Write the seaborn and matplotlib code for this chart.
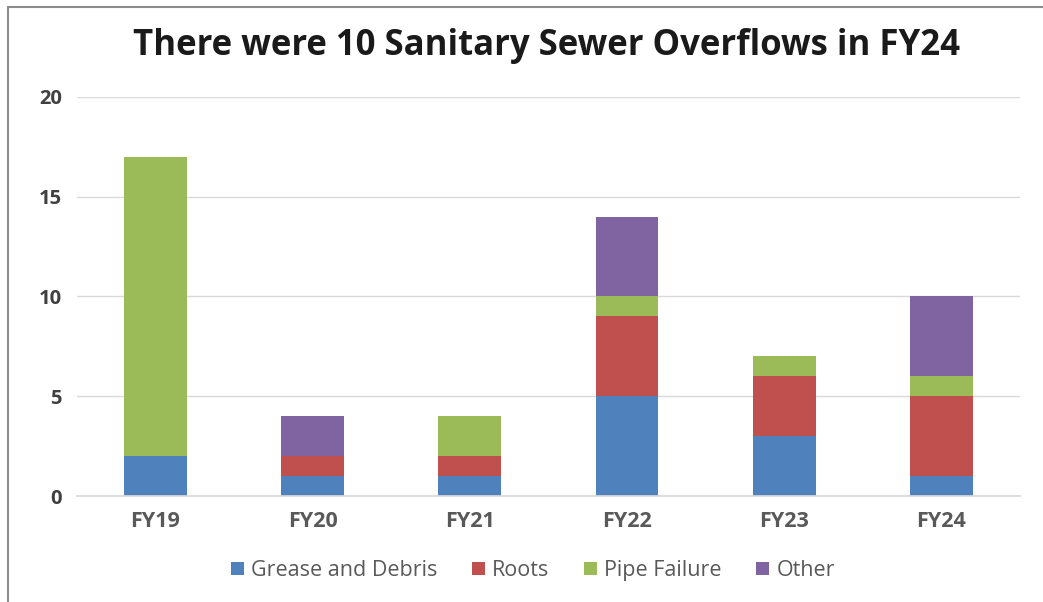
import matplotlib
matplotlib.use("Agg")
import matplotlib.pyplot as plt
import seaborn as sns
import pandas as pd
import numpy as np
from matplotlib.patches import Patch
from matplotlib.lines import Line2D

years = ["FY19", "FY20", "FY21", "FY22", "FY23", "FY24"]
causes = ["Grease and Debris", "Roots", "Pipe Failure", "Other"]
grease = [2, 1, 1, 5, 3, 1]
roots = [0, 1, 1, 4, 3, 4]
pipe = [15, 0, 2, 1, 1, 1]
other = [0, 2, 0, 4, 0, 4]
y_ticks = [0, 5, 10, 15, 20]
title = "There were 10 Sanitary Sewer Overflows in FY24"

colors = ["#4F81BD", "#C0504D", "#9BBB59", "#8064A2"]

sns.set_theme(style="white")
plt.rcParams["font.family"] = ["Open Sans", "DejaVu Sans"]

fig = plt.figure(figsize=(10.43, 6.02), dpi=100)
ax = fig.add_axes([0.0738, 0.176, 0.904, 0.663])

series = [grease, roots, pipe, other]
bottom = np.zeros(len(years))
for name, vals, col in zip(causes, series, colors):
    df = pd.DataFrame({"year": years, "count": vals})
    sns.barplot(data=df, x="year", y="count", order=years, color=col,
                width=0.4, bottom=bottom.copy(), ax=ax, linewidth=0,
                saturation=1, errorbar=None)
    bottom += np.array(vals)

ax.set_ylim(0, 20)
ax.set_xlim(-0.5, 5.5)
ax.set_yticks(y_ticks)
ax.set_yticklabels([str(t) for t in y_ticks], fontsize=14.5, fontweight="bold", color="#404040")
ax.set_xticklabels(years, fontsize=15.5, fontweight="bold", color="#595959")
ax.tick_params(axis="y", length=0, pad=11)
ax.tick_params(axis="x", length=0, pad=11)
ax.yaxis.grid(True, color="#D9D9D9", linewidth=1)
ax.set_axisbelow(True)
for s in ["top", "right", "left"]:
    ax.spines[s].set_visible(False)
ax.spines["bottom"].set_color("#D9D9D9")
ax.set_xlabel("")
ax.set_ylabel("")

fig.text(0.524, 0.924, title, ha="center", va="center", fontsize=25,
         fontweight="bold", color="#1a1a1a")

handles = [Patch(facecolor=c, edgecolor="none") for c in colors]
fig.legend(handles, causes, loc="center", bbox_to_anchor=(0.511, 0.052), ncol=4,
           frameon=False, fontsize=15.5, handlelength=0.6, handleheight=0.6,
           handletextpad=0.35, columnspacing=1.6, labelcolor="#595959")

# outer frame (left and top edges visible)
fig.add_artist(Line2D([0.0075, 0.0075], [0, 0.988], transform=fig.transFigure, color="#8c8c8c", lw=1.5))
fig.add_artist(Line2D([0.0075, 1.0], [0.988, 0.988], transform=fig.transFigure, color="#8c8c8c", lw=1.5))

fig.savefig("out.png", dpi=100, facecolor="white")
